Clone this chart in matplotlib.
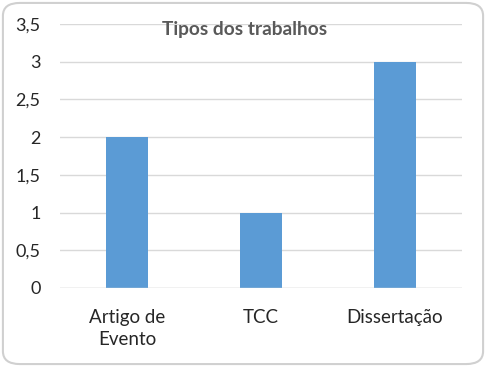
import matplotlib
matplotlib.use("Agg")
import matplotlib.pyplot as plt
from matplotlib.patches import FancyBboxPatch

categories = ["Artigo de\nEvento", "TCC", "Dissertação"]
values = [2, 1, 3]
yticks = [0, 0.5, 1, 1.5, 2, 2.5, 3, 3.5]
ytick_labels = ["0", "0,5", "1", "1,5", "2", "2,5", "3", "3,5"]
title = "Tipos dos trabalhos"

plt.rcParams['font.family'] = ['Lato', 'DejaVu Sans']

fig = plt.figure(figsize=(4.86, 3.67), dpi=100, facecolor="white")
border = FancyBboxPatch((0.006, 0.008), 0.988, 0.984,
                        boxstyle="round,pad=0,rounding_size=0.035",
                        transform=fig.transFigure, facecolor="none",
                        edgecolor="#d0d0d0", linewidth=1.5, zorder=10)
fig.patches.append(border)

ax = fig.add_axes([60/486, 1-288/367, 402/486, 264/367])
ax.set_facecolor("none")
x = range(len(categories))
ax.bar(x, values, width=0.313, color="#5b9bd5", zorder=3)
ax.set_xlim(-0.5, 2.5)
ax.set_ylim(0, 3.5)
ax.set_yticks(yticks)
ax.set_yticklabels(ytick_labels, fontsize=13, color="#262626")
ax.set_xticks(list(x))
ax.set_xticklabels(categories, fontsize=13.5, color="#262626", linespacing=1.4)
ax.tick_params(axis='both', length=0)
ax.tick_params(axis='y', pad=14)
ax.tick_params(axis='x', pad=15)
ax.grid(axis='y', color="#d9d9d9", linewidth=1, zorder=0)
for s in ax.spines.values():
    s.set_visible(False)
ax.axhline(0, color="#d9d9d9", linewidth=1, zorder=4)
fig.text(245/486, 1-30/367, title, ha='center', va='center',
         fontsize=13.8, fontweight='bold', color="#595959")

fig.savefig("out.png", dpi=100)
